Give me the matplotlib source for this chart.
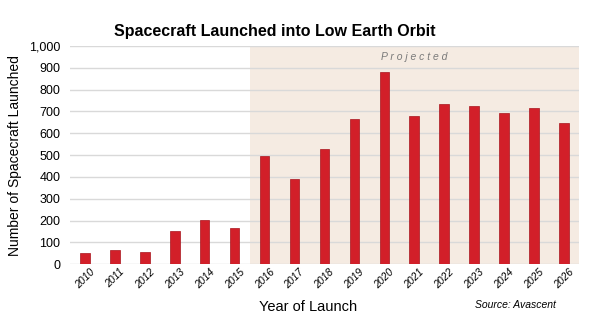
import matplotlib
matplotlib.use("Agg")
import matplotlib.pyplot as plt

# values
years = [str(y) for y in range(2010, 2027)]
launched = [50, 65, 55, 152, 202, 168, 495, 392, 530, 665, 880, 680, 735, 723, 695, 714, 645]
first_projected = 6  # 2016 onward is projected
y_ticks = [0, 100, 200, 300, 400, 500, 600, 700, 800, 900, 1000]

plt.rcParams['font.family'] = ['Liberation Sans', 'DejaVu Sans']

fig = plt.figure(figsize=(5.95, 3.35), dpi=100)
ax = fig.add_axes([0.1176, 0.211, 0.8554, 0.6517])

x = list(range(len(years)))
ax.axvspan(first_projected - 0.5, len(years) - 0.5, color='#f5ebe2', zorder=0, lw=0)
ax.bar(x, launched, width=0.32, color='#d21f29', edgecolor='#a8141d', linewidth=0.5, zorder=3)

ax.set_xlim(-0.5, len(years) - 0.5)
ax.set_ylim(0, 1000)
ax.set_yticks(y_ticks)
ax.set_yticklabels([f"{v:,}" for v in y_ticks], fontsize=9)
ax.yaxis.grid(True, color='#d9d9d9', linewidth=1.0, zorder=1)
ax.set_axisbelow(True)
ax.set_xticks(x)
ax.set_xticklabels(years, rotation=45, fontsize=7.5, style='italic', ha='center', va='top')
ax.tick_params(axis='y', length=0, pad=7)
ax.tick_params(axis='x', length=0, pad=2)
for s in ax.spines.values():
    s.set_visible(False)

ax.text((first_projected - 0.5 + len(years) - 0.5) / 2, 950, 'P r o j e c t e d', ha='center', va='center',
        fontsize=7.5, style='italic', color='#7a7a7a')

ax.set_ylabel('Number of Spacecraft Launched', fontsize=10, labelpad=5)
fig.text(0.518, 0.083, 'Year of Launch', ha='center', va='center', fontsize=10.5)
fig.text(0.934, 0.09, 'Source: Avascent', ha='right', va='center', fontsize=7.5, style='italic')
fig.text(0.462, 0.905, 'Spacecraft Launched into Low Earth Orbit', ha='center', va='center',
         fontsize=11.5, fontweight='bold')

fig.savefig('out.png', dpi=100)
